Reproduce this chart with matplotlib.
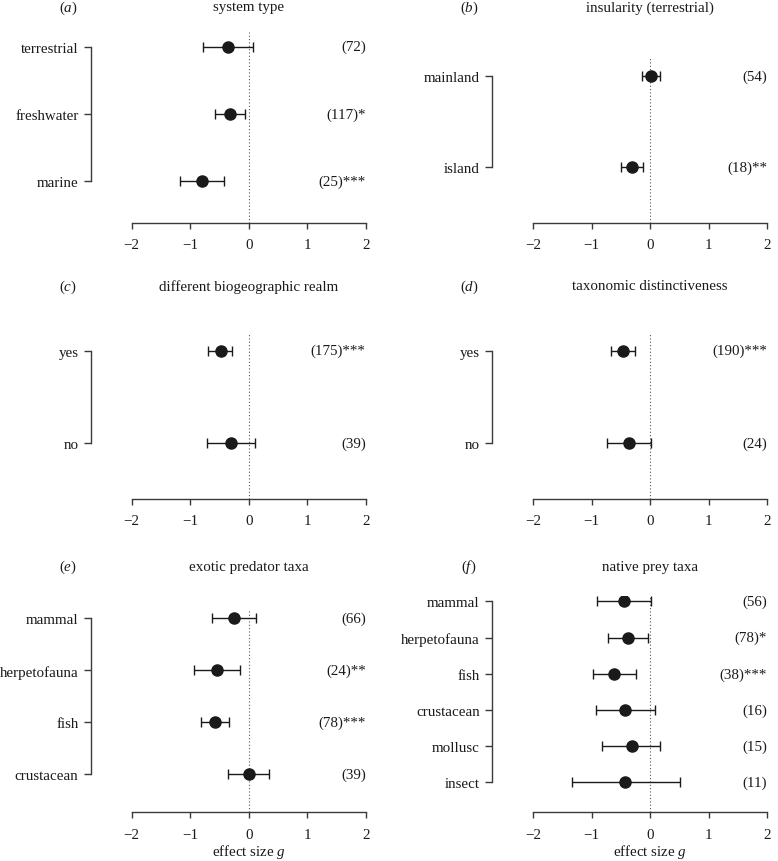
import matplotlib
matplotlib.use("Agg")
import matplotlib.pyplot as plt

plt.rcParams['font.family'] = ['Liberation Serif', 'DejaVu Serif']
plt.rcParams['mathtext.fontset'] = 'custom'
plt.rcParams['mathtext.it'] = 'Liberation Serif:italic'
plt.rcParams['mathtext.rm'] = 'Liberation Serif'

# ---------------- data ----------------
a_cats = ['terrestrial', 'freshwater', 'marine']
a_g = [-0.36, -0.32, -0.79]
a_lo = [-0.78, -0.58, -1.17]
a_hi = [0.08, -0.06, -0.42]
a_n = ['(72)', '(117)*', '(25)***']

b_cats = ['mainland', 'island']
b_g = [0.02, -0.30]
b_lo = [-0.13, -0.49]
b_hi = [0.17, -0.12]
b_n = ['(54)', '(18)**']

c_cats = ['yes', 'no']
c_g = [-0.48, -0.30]
c_lo = [-0.69, -0.72]
c_hi = [-0.28, 0.11]
c_n = ['(175)***', '(39)']

d_cats = ['yes', 'no']
d_g = [-0.46, -0.36]
d_lo = [-0.67, -0.73]
d_hi = [-0.26, 0.02]
d_n = ['(190)***', '(24)']

e_cats = ['mammal', 'herpetofauna', 'fish', 'crustacean']
e_g = [-0.25, -0.54, -0.58, 0.01]
e_lo = [-0.62, -0.93, -0.82, -0.35]
e_hi = [0.12, -0.15, -0.34, 0.35]
e_n = ['(66)', '(24)**', '(78)***', '(39)']

f_cats = ['mammal', 'herpetofauna', 'fish', 'crustacean', 'mollusc', 'insect']
f_g = [-0.44, -0.37, -0.61, -0.42, -0.31, -0.43]
f_lo = [-0.90, -0.72, -0.97, -0.92, -0.82, -1.34]
f_hi = [0.02, -0.03, -0.24, 0.09, 0.17, 0.51]
f_n = ['(56)', '(78)*', '(38)***', '(16)', '(15)', '(11)']

titles = ['system type', 'insularity (terrestrial)', 'different biogeographic realm',
          'taxonomic distinctiveness', 'exotic predator taxa', 'native prey taxa']
letters = ['a', 'b', 'c', 'd', 'e', 'f']
xticks = [-2, -1, 0, 1, 2]
xticklabels = ['\u22122', '\u22121', '0', '1', '2']

# ---------------- layout (pixels) ----------------
W, H = 778, 862
DPI = 100
fig = plt.figure(figsize=(W / DPI, H / DPI), dpi=DPI)

# left px, dotted-top px, axis-line px, top pad (rows), bottom pad (rows)
layout = [
    (131.7, 33, 224, 0.22, 0.63),
    (533.0, 59, 224, 0.20, 0.62),
    (131.7, 335, 500, 0.18, 0.61),
    (533.0, 335, 500, 0.18, 0.61),
    (131.7, 610, 813.3, 0.18, 0.74),
    (533.0, 597, 813.3, 0.15, 0.83),
]
AXW = 234.0
title_y = [8, 8, 287, 287, 567, 567]
letter_x = [68, 469, 68, 469, 68, 469]
bracket_offset_px = 41.0
xlabel_y = 852

panels = [
    (a_cats, a_g, a_lo, a_hi, a_n),
    (b_cats, b_g, b_lo, b_hi, b_n),
    (c_cats, c_g, c_lo, c_hi, c_n),
    (d_cats, d_g, d_lo, d_hi, d_n),
    (e_cats, e_g, e_lo, e_hi, e_n),
    (f_cats, f_g, f_lo, f_hi, f_n),
]

FS = 10.8
dark = '#1a1a1a'
spine_col = '#3a3a3a'

for i, (cats, g, lo, hi, nlab) in enumerate(panels):
    left, top, bot, tpad, bpad = layout[i]
    ax = fig.add_axes([left / W, 1 - bot / H, AXW / W, (bot - top) / H])
    n = len(cats)
    ys = list(range(n))
    ax.set_xlim(-2, 2)
    ax.set_ylim(n - 1 + bpad, -tpad)

    # reference line at zero
    ax.axvline(0, color='#555555', lw=0.8, ls=(0, (1, 2)), zorder=1)

    xerr = [[gi - l for gi, l in zip(g, lo)], [h - gi for gi, h in zip(g, hi)]]
    ax.errorbar(g, ys, xerr=xerr, fmt='o', color=dark, ms=8, mfc=dark, mec=dark,
                elinewidth=1.0, capsize=3.8, capthick=1.0, zorder=3)

    for y, t in zip(ys, nlab):
        ax.text(2, y, t, ha='right', va='center', fontsize=FS, color=dark)

    # spines
    for s in ['top', 'right']:
        ax.spines[s].set_visible(False)
    ax.spines['bottom'].set_bounds(-2, 2)
    ax.spines['bottom'].set_color(spine_col)
    ax.spines['bottom'].set_linewidth(1.0)
    ax.spines['left'].set_position(('outward', bracket_offset_px * 72 / DPI))
    ax.spines['left'].set_bounds(0, n - 1)
    ax.spines['left'].set_color(spine_col)
    ax.spines['left'].set_linewidth(1.0)

    ax.set_xticks(xticks)
    ax.set_xticklabels(xticklabels, fontsize=FS, color=dark)
    ax.set_yticks(ys)
    ax.set_yticklabels(cats, fontsize=FS, color=dark)
    ax.tick_params(axis='x', direction='out', length=4.5, width=1.0, color=spine_col, pad=6.5)
    ax.tick_params(axis='y', direction='out', length=5.3, width=1.0, color=spine_col, pad=3.5)
    ax.patch.set_visible(False)

    cx = (left + AXW / 2) / W
    if i >= 4:
        fig.text(cx, 1 - xlabel_y / H, 'effect size $g$', ha='center', va='center',
                 fontsize=FS, color=dark)

    fig.text(cx, 1 - title_y[i] / H, titles[i], ha='center', va='center', fontsize=FS, color=dark)
    fig.text(letter_x[i] / W, 1 - title_y[i] / H, '($' + letters[i] + '$)', ha='center',
             va='center', fontsize=FS, color=dark)

fig.savefig('out.png', dpi=DPI, facecolor='white')
